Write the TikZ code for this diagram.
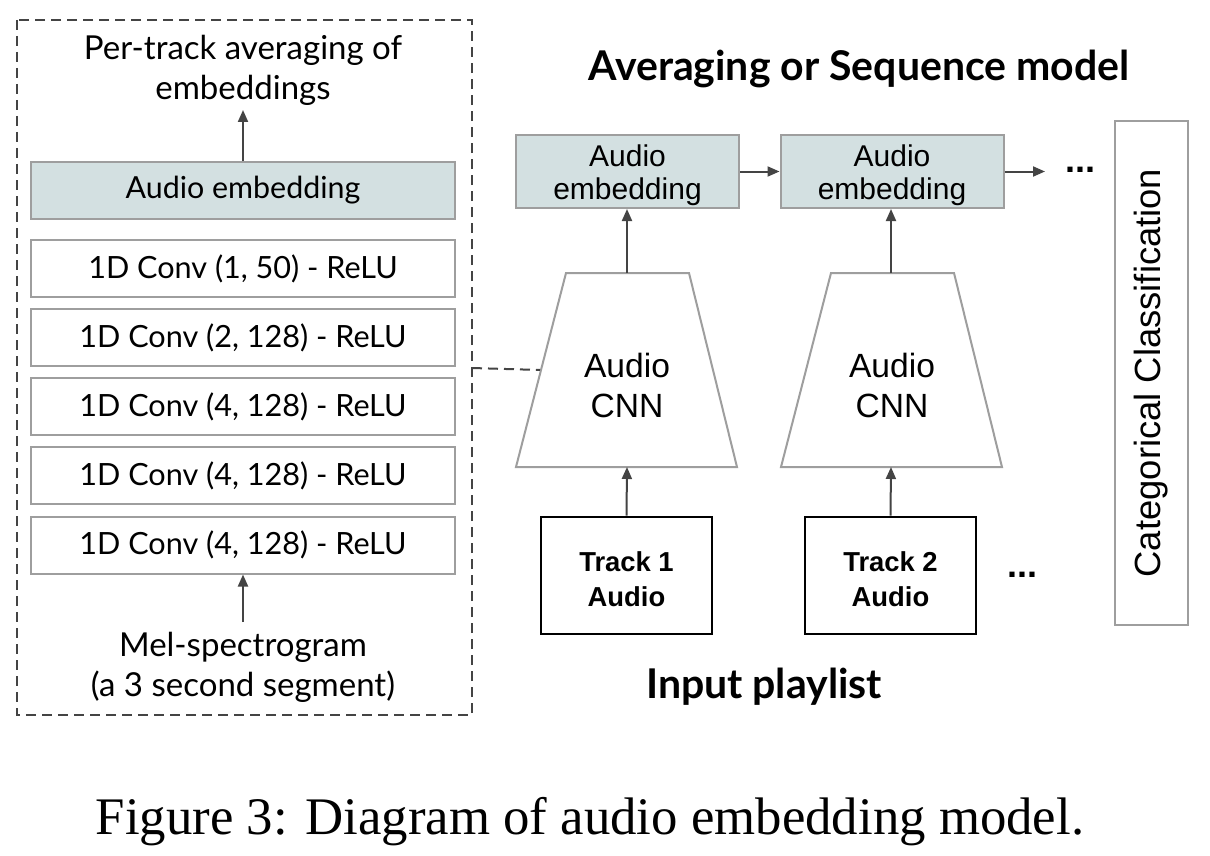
\documentclass[tikz,border=0pt]{standalone}
\usepackage{fontspec}
\setmainfont{Liberation Serif}
\newfontfamily\lat{Lato}
\newfontfamily\ari{Liberation Sans}
\usetikzlibrary{arrows.meta}
\definecolor{embfill}{HTML}{D3E0E1}
\definecolor{boxgray}{HTML}{9E9E9E}
\definecolor{arrgray}{HTML}{444444}
\tikzset{
  graybox/.style={draw=boxgray, line width=1pt, rectangle, inner sep=0pt, align=center},
  leftbox/.style={graybox, minimum width=212pt, minimum height=28.5pt, font=\lat\fontsize{15.3}{17}\selectfont},
  embright/.style={graybox, fill=embfill, minimum width=111.5pt, minimum height=36.5pt, font=\ari\fontsize{15}{16.5}\selectfont},
  trackbox/.style={draw=black, line width=1.3pt, rectangle, inner sep=0pt, align=center, minimum width=85.5pt, minimum height=58.5pt, font=\ari\bfseries\fontsize{13.7}{17.5}\selectfont},
  plain/.style={inner sep=0pt, align=center},
  arr/.style={draw=arrgray, line width=1pt, -{Triangle[length=6pt,width=5pt]}},
}
\begin{document}
\begin{tikzpicture}[x=0.5pt,y=-0.5pt]
\useasboundingbox (0,0) rectangle (1210,856);
% dashed container
\draw[draw=arrgray, line width=1pt, dash pattern=on 5pt off 3pt] (17,20) rectangle (472,715);
% left column
\node[plain, font=\lat\fontsize{16.5}{20}\selectfont] (avg) at (243,70) {Per-track averaging of\\embeddings};
\coordinate (avgin) at (243,110);
\node[leftbox, fill=embfill, font=\lat\fontsize{15.2}{17}\selectfont] (emb0) at (243,190.5) {Audio embedding};
\node[leftbox, fill=white] (c1) at (243,268.5) {1D Conv (1, 50) - ReLU};
\node[leftbox, fill=white] (c2) at (243,337.5) {1D Conv (2, 128) - ReLU};
\node[leftbox, fill=white] (c3) at (243,406.5) {1D Conv (4, 128) - ReLU};
\node[leftbox, fill=white] (c4) at (243,475.5) {1D Conv (4, 128) - ReLU};
\node[leftbox, fill=white] (c5) at (243,545) {1D Conv (4, 128) - ReLU};
\coordinate (melout) at (243,622);
\node[plain, font=\lat\fontsize{16.5}{20}\selectfont] (mel) at (243,667) {Mel-spectrogram\\(a 3 second segment)};
\draw[arr] (emb0.north) -- (avgin);
\draw[arr] (melout) -- (c5.south);
% right side
\node[plain, font=\lat\bfseries\fontsize{20.5}{22}\selectfont] (title) at (859,69) {Averaging or Sequence model};
\node[embright] (e1) at (627.5,171.5) {};
\node[plain, font=\ari\fontsize{15}{16.5}\selectfont] (e1t) at (627.5,175) {Audio\\embedding};
\node[embright] (e2) at (892,171.5) {};
\node[plain, font=\ari\fontsize{15}{16.5}\selectfont] (e2t) at (892,175) {Audio\\embedding};
\coordinate (eout) at (1045,171.5);
\node[plain, font=\ari\bfseries\fontsize{18}{20}\selectfont] (dots1) at (1080,170) {...};
\draw[arr] (e1.east) -- (e2.west);
\draw[arr] (e2.east) -- (eout);
% trapezoids
\draw[draw=boxgray, line width=1pt, fill=white] (566,273) -- (689,273) -- (737,467) -- (516,467) -- cycle;
\draw[draw=boxgray, line width=1pt, fill=white] (831,273) -- (954,273) -- (1002,467) -- (781,467) -- cycle;
\node[plain, font=\ari\fontsize{16.8}{20}\selectfont] (cnn1) at (627,385) {Audio\\CNN};
\node[plain, font=\ari\fontsize{16.8}{20}\selectfont] (cnn2) at (892,385) {Audio\\CNN};
\coordinate (cnn1top) at (627,273);
\coordinate (cnn1bot) at (627,467);
\coordinate (cnn2top) at (891,273);
\coordinate (cnn2bot) at (891,467);
\coordinate (cnnleft) at (540,370);
\draw[arr] (cnn1top) -- (e1.south -| cnn1top);
\draw[arr] (cnn2top) -- (e2.south -| cnn2top);
% tracks
\node[trackbox] (t1) at (626.5,575.5) {};
\node[plain, font=\ari\bfseries\fontsize{13.7}{17.5}\selectfont] (t1t) at (626.5,579) {Track 1\\Audio};
\node[trackbox] (t2) at (890.5,575.5) {};
\node[plain, font=\ari\bfseries\fontsize{13.7}{17.5}\selectfont] (t2t) at (890.5,579) {Track 2\\Audio};
\node[plain, font=\ari\bfseries\fontsize{18}{20}\selectfont] (dots2) at (1022,575) {...};
\draw[arr] (t1.north) -- (cnn1bot);
\draw[arr] (t2.north) -- (cnn2bot);
\node[plain, font=\lat\bfseries\fontsize{20.5}{22}\selectfont] (inp) at (764,687) {Input playlist};
% dashed link
\draw[draw=arrgray, line width=1pt, dash pattern=on 5pt off 3pt] (472,368) -- (cnnleft);
% categorical classification
\node[graybox, minimum width=36.5pt, minimum height=252pt] (cat) at (1151.5,373) {};
\node[plain, rotate=90, font=\ari\fontsize{18.2}{20}\selectfont] (catt) at (cat.center) {Categorical Classification};
% caption
\node[plain, font=\fontsize{26.4}{30}\selectfont] (cap) at (590,822) {Figure 3: Diagram of audio embedding model.};
\end{tikzpicture}
\end{document}
